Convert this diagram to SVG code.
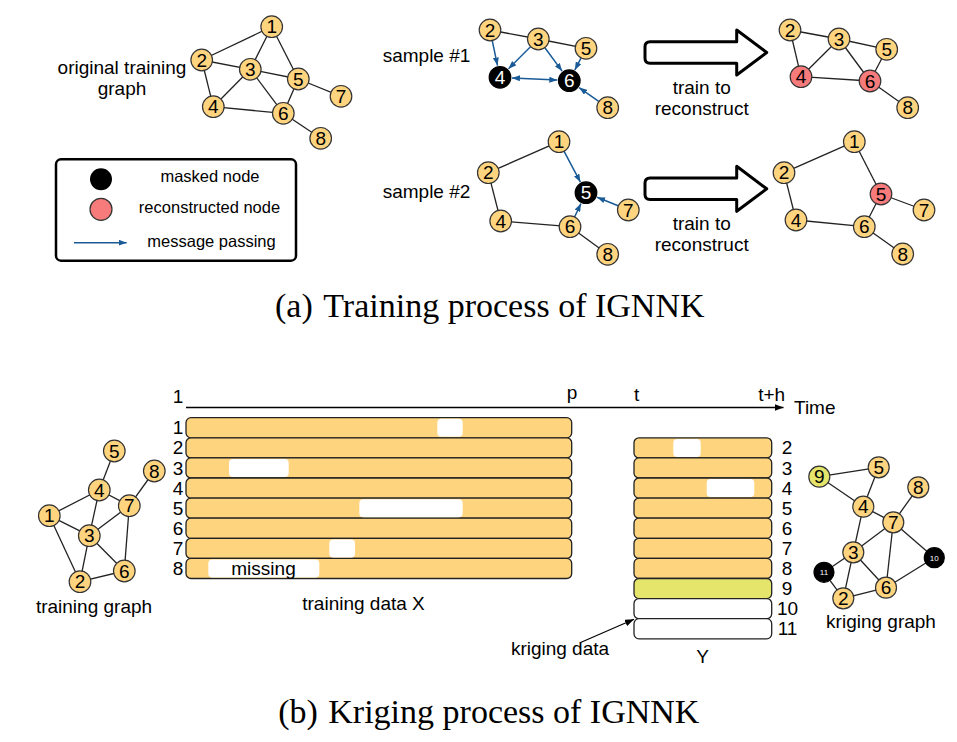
<svg xmlns="http://www.w3.org/2000/svg" width="957" height="742" viewBox="0 0 957 742">
<defs>
<marker id="ab" markerWidth="8" markerHeight="6" refX="8" refY="3" orient="auto-start-reverse" markerUnits="userSpaceOnUse"><path d="M0,0 L8,3 L0,6 z" fill="#1a5a96"/></marker>
<marker id="ak" markerWidth="9" markerHeight="7" refX="9" refY="3.5" orient="auto" markerUnits="userSpaceOnUse"><path d="M0,0 L9,3.5 L0,7 z" fill="#000"/></marker>
</defs>
<style>
text{font-family:"Liberation Sans",Arial,sans-serif;fill:#000}
.t{font-size:19px}
.lg{font-size:16.5px}
.m{text-anchor:middle}
.n{fill:#ffd47f;stroke:#333;stroke-width:1.2}
.p{fill:#f77b7b;stroke:#333;stroke-width:1.2}
.b{fill:#000;stroke:#000;stroke-width:1.2}
.g{fill:#e5e46b;stroke:#333;stroke-width:1.2}
.nl{font-size:19px;text-anchor:middle}
.wl{font-size:19px;text-anchor:middle;fill:#fff}
.sl{font-size:8px;text-anchor:middle;fill:#fff}
.e{stroke:#222;stroke-width:1.3;fill:none}
.mp{stroke:#1a5a96;stroke-width:1.5;fill:none;marker-end:url(#ab)}
.bar{fill:#ffd47f;stroke:#222;stroke-width:1.3}
.gap{fill:#fff}
.big{fill:#fff;stroke:#000;stroke-width:3;stroke-linejoin:round}
.cap{font-family:"Liberation Serif","Times New Roman",serif;font-size:34px}
</style>

<!-- connectors -->
<g id="connectors">
<g class="e">
<line x1="271.7" y1="26.7" x2="201.7" y2="60"/>
<line x1="271.7" y1="26.7" x2="250.3" y2="69.3"/>
<line x1="271.7" y1="26.7" x2="298.3" y2="79"/>
<line x1="201.7" y1="60" x2="250.3" y2="69.3"/>
<line x1="201.7" y1="60" x2="213.3" y2="106.7"/>
<line x1="250.3" y1="69.3" x2="213.3" y2="106.7"/>
<line x1="250.3" y1="69.3" x2="298.3" y2="79"/>
<line x1="250.3" y1="69.3" x2="283.3" y2="113.3"/>
<line x1="213.3" y1="106.7" x2="283.3" y2="113.3"/>
<line x1="298.3" y1="79" x2="283.3" y2="113.3"/>
<line x1="298.3" y1="79" x2="341" y2="96.3"/>
<line x1="283.3" y1="113.3" x2="320.7" y2="138.3"/>
</g>
<g class="e">
<line x1="490" y1="30" x2="538.3" y2="39"/>
<line x1="538.3" y1="39" x2="586" y2="48.3"/>
</g>
<path class="mp" d="M492.3,40.8 L497.5,65.6"/>
<path class="mp" d="M530.5,46.8 L508.5,68.8"/>
<path class="mp" d="M544.9,47.8 L562.1,71.1"/>
<path class="mp" d="M581,58.1 L574.8,70"/>
<path class="mp" d="M598.7,101.4 L579.1,87.6"/>
<path class="mp" d="M512,77.9 L557.3,80.1" marker-start="url(#ab)"/>
<g class="e">
<line x1="790" y1="30" x2="839" y2="39"/>
<line x1="839" y1="39" x2="886.7" y2="49.3"/>
<line x1="790" y1="30" x2="801" y2="76.7"/>
<line x1="839" y1="39" x2="801" y2="76.7"/>
<line x1="839" y1="39" x2="870" y2="81"/>
<line x1="801" y1="76.7" x2="870" y2="81"/>
<line x1="886.7" y1="49.3" x2="870" y2="81"/>
<line x1="870" y1="81" x2="907.7" y2="107.7"/>
</g>
<g class="e">
<line x1="559" y1="141.7" x2="488.3" y2="172.7"/>
<line x1="488.3" y1="172.7" x2="500.7" y2="221"/>
<line x1="500.7" y1="221" x2="570" y2="226.7"/>
<line x1="570" y1="226.7" x2="607.7" y2="254.3"/>
</g>
<path class="mp" d="M564.1,151.4 L580.4,182.1"/>
<path class="mp" d="M618.1,205.8 L597.1,197.2"/>
<path class="mp" d="M574.7,216.7 L580.9,203.6"/>
<g class="e">
<line x1="854.3" y1="141.7" x2="784" y2="172.7"/>
<line x1="854.3" y1="141.7" x2="881" y2="194"/>
<line x1="784" y1="172.7" x2="796" y2="220"/>
<line x1="796" y1="220" x2="864.3" y2="226.7"/>
<line x1="881" y1="194" x2="864.3" y2="226.7"/>
<line x1="881" y1="194" x2="924" y2="210"/>
<line x1="864.3" y1="226.7" x2="902.7" y2="254"/>
</g>
<g class="e">
<line x1="114.3" y1="451" x2="99.3" y2="490"/>
<line x1="154.3" y1="471" x2="129.3" y2="505.7"/>
<line x1="99.3" y1="490" x2="129.3" y2="505.7"/>
<line x1="99.3" y1="490" x2="49.3" y2="515.7"/>
<line x1="99.3" y1="490" x2="89.3" y2="535.7"/>
<line x1="49.3" y1="515.7" x2="89.3" y2="535.7"/>
<line x1="49.3" y1="515.7" x2="80" y2="581.7"/>
<line x1="89.3" y1="535.7" x2="129.3" y2="505.7"/>
<line x1="89.3" y1="535.7" x2="80" y2="581.7"/>
<line x1="89.3" y1="535.7" x2="124.3" y2="571"/>
<line x1="129.3" y1="505.7" x2="124.3" y2="571"/>
<line x1="80" y1="581.7" x2="124.3" y2="571"/>
</g>
<g class="e">
<line x1="819.3" y1="476.7" x2="878.7" y2="467.3"/>
<line x1="819.3" y1="476.7" x2="863.3" y2="506.7"/>
<line x1="878.7" y1="467.3" x2="863.3" y2="506.7"/>
<line x1="918.3" y1="487.3" x2="893.3" y2="522.3"/>
<line x1="863.3" y1="506.7" x2="893.3" y2="522.3"/>
<line x1="863.3" y1="506.7" x2="853.3" y2="552.3"/>
<line x1="853.3" y1="552.3" x2="893.3" y2="522.3"/>
<line x1="893.3" y1="522.3" x2="886" y2="587.7"/>
<line x1="893.3" y1="522.3" x2="934.3" y2="557.7"/>
<line x1="934.3" y1="557.7" x2="886" y2="587.7"/>
<line x1="853.3" y1="552.3" x2="824" y2="572.3"/>
<line x1="824" y1="572.3" x2="843.3" y2="598.3"/>
<line x1="853.3" y1="552.3" x2="843.3" y2="598.3"/>
<line x1="853.3" y1="552.3" x2="886" y2="587.7"/>
<line x1="843.3" y1="598.3" x2="886" y2="587.7"/>
</g>
<line x1="186" y1="407.5" x2="783.5" y2="407.5" stroke="#000" stroke-width="1.5" marker-end="url(#ak)"/>
<line x1="580" y1="642.7" x2="634" y2="619.3" stroke="#000" stroke-width="1.2" marker-end="url(#ak)"/>
</g>

<g id="orig-graph-label">
<text class="t m" x="122" y="74">original training</text>
<text class="t m" x="122" y="95">graph</text>
</g>
<g id="orig-graph">
<g id="o1"><circle class="n" cx="271.7" cy="26.7" r="10.8"/><text class="nl" x="271.7" y="33.4">1</text></g>
<g id="o2"><circle class="n" cx="201.7" cy="60" r="10.8"/><text class="nl" x="201.7" y="66.7">2</text></g>
<g id="o3"><circle class="n" cx="250.3" cy="69.3" r="10.8"/><text class="nl" x="250.3" y="76">3</text></g>
<g id="o4"><circle class="n" cx="213.3" cy="106.7" r="10.8"/><text class="nl" x="213.3" y="113.4">4</text></g>
<g id="o5"><circle class="n" cx="298.3" cy="79" r="10.8"/><text class="nl" x="298.3" y="85.7">5</text></g>
<g id="o6"><circle class="n" cx="283.3" cy="113.3" r="10.8"/><text class="nl" x="283.3" y="120">6</text></g>
<g id="o7"><circle class="n" cx="341" cy="96.3" r="10.8"/><text class="nl" x="341" y="103">7</text></g>
<g id="o8"><circle class="n" cx="320.7" cy="138.3" r="10.8"/><text class="nl" x="320.7" y="145">8</text></g>
</g>

<g id="legend">
<rect x="56" y="159.3" width="240" height="101.4" rx="5" fill="#fff" stroke="#000" stroke-width="2.5"/>
<circle cx="101" cy="179.3" r="11" fill="#000"/>
<circle cx="101" cy="209.3" r="11" fill="#f77b7b" stroke="#333" stroke-width="1.2"/>
<path class="mp" d="M74,242.7 L126.7,242.7"/>
<text class="lg m" x="210" y="182.3">masked node</text>
<text class="lg m" x="209.5" y="212.5">reconstructed node</text>
<text class="lg m" x="211.5" y="246.7">message passing</text>
</g>

<g id="sample1">
<text class="t" x="382.7" y="61.7">sample #1</text>
<g id="s1n2"><circle class="n" cx="490" cy="30" r="10.8"/><text class="nl" x="490" y="36.7">2</text></g>
<g id="s1n3"><circle class="n" cx="538.3" cy="39" r="10.8"/><text class="nl" x="538.3" y="45.7">3</text></g>
<g id="s1n5"><circle class="n" cx="586" cy="48.3" r="10.8"/><text class="nl" x="586" y="55">5</text></g>
<g id="s1n4"><circle class="b" cx="500" cy="77.3" r="10.8"/><text class="wl" x="500" y="84">4</text></g>
<g id="s1n6"><circle class="b" cx="569.3" cy="80.7" r="10.8"/><text class="wl" x="569.3" y="87.4">6</text></g>
<g id="s1n8"><circle class="n" cx="607.7" cy="107.7" r="10.8"/><text class="nl" x="607.7" y="114.4">8</text></g>
</g>

<g id="train-arrow-1">
<path class="big" d="M650,41.7 L736.7,41.7 L736.7,30 L766.7,52.5 L736.7,75 L736.7,63.3 L650,63.3 Q645,63.3 645,58.3 L645,46.7 Q645,41.7 650,41.7 Z"/>
<text class="t m" x="701.7" y="94.3">train to</text>
<text class="t m" x="701.7" y="115">reconstruct</text>
</g>

<g id="recon1">
<g id="r1n2"><circle class="n" cx="790" cy="30" r="10.8"/><text class="nl" x="790" y="36.7">2</text></g>
<g id="r1n3"><circle class="n" cx="839" cy="39" r="10.8"/><text class="nl" x="839" y="45.7">3</text></g>
<g id="r1n5"><circle class="n" cx="886.7" cy="49.3" r="10.8"/><text class="nl" x="886.7" y="56">5</text></g>
<g id="r1n4"><circle class="p" cx="801" cy="76.7" r="10.8"/><text class="nl" x="801" y="83.4">4</text></g>
<g id="r1n6"><circle class="p" cx="870" cy="81" r="10.8"/><text class="nl" x="870" y="87.7">6</text></g>
<g id="r1n8"><circle class="n" cx="907.7" cy="107.7" r="10.8"/><text class="nl" x="907.7" y="114.4">8</text></g>
</g>

<g id="sample2">
<text class="t" x="382.7" y="198.3">sample #2</text>
<g id="s2n1"><circle class="n" cx="559" cy="141.7" r="10.8"/><text class="nl" x="559" y="148.4">1</text></g>
<g id="s2n2"><circle class="n" cx="488.3" cy="172.7" r="10.8"/><text class="nl" x="488.3" y="179.4">2</text></g>
<g id="s2n5"><circle class="b" cx="586" cy="192.7" r="10.8"/><text class="wl" x="586" y="199.4">5</text></g>
<g id="s2n7"><circle class="n" cx="628.3" cy="210" r="10.8"/><text class="nl" x="628.3" y="216.7">7</text></g>
<g id="s2n4"><circle class="n" cx="500.7" cy="221" r="10.8"/><text class="nl" x="500.7" y="227.7">4</text></g>
<g id="s2n6"><circle class="n" cx="570" cy="226.7" r="10.8"/><text class="nl" x="570" y="233.4">6</text></g>
<g id="s2n8"><circle class="n" cx="607.7" cy="254.3" r="10.8"/><text class="nl" x="607.7" y="261">8</text></g>
</g>

<g id="train-arrow-2">
<path class="big" d="M650,178 L736.7,178 L736.7,166.3 L766.7,188.8 L736.7,211.3 L736.7,199.6 L650,199.6 Q645,199.6 645,194.6 L645,183 Q645,178 650,178 Z"/>
<text class="t m" x="701.7" y="230.3">train to</text>
<text class="t m" x="701.7" y="251">reconstruct</text>
</g>

<g id="recon2">
<g id="r2n1"><circle class="n" cx="854.3" cy="141.7" r="10.8"/><text class="nl" x="854.3" y="148.4">1</text></g>
<g id="r2n2"><circle class="n" cx="784" cy="172.7" r="10.8"/><text class="nl" x="784" y="179.4">2</text></g>
<g id="r2n5"><circle class="p" cx="881" cy="194" r="10.8"/><text class="nl" x="881" y="200.7">5</text></g>
<g id="r2n7"><circle class="n" cx="924" cy="210" r="10.8"/><text class="nl" x="924" y="216.7">7</text></g>
<g id="r2n4"><circle class="n" cx="796" cy="220" r="10.8"/><text class="nl" x="796" y="226.7">4</text></g>
<g id="r2n6"><circle class="n" cx="864.3" cy="226.7" r="10.8"/><text class="nl" x="864.3" y="233.4">6</text></g>
<g id="r2n8"><circle class="n" cx="902.7" cy="254" r="10.8"/><text class="nl" x="902.7" y="260.7">8</text></g>
</g>

<g id="caption-a">
<text class="cap" x="275" y="317">(a)</text>
<text class="cap" x="323.3" y="317">Training process of IGNNK</text>
</g>

<g id="training-graph">
<g id="t5"><circle class="n" cx="114.3" cy="451" r="10.8"/><text class="nl" x="114.3" y="457.7">5</text></g>
<g id="t8"><circle class="n" cx="154.3" cy="471" r="10.8"/><text class="nl" x="154.3" y="477.7">8</text></g>
<g id="t4"><circle class="n" cx="99.3" cy="490" r="10.8"/><text class="nl" x="99.3" y="496.7">4</text></g>
<g id="t7"><circle class="n" cx="129.3" cy="505.7" r="10.8"/><text class="nl" x="129.3" y="512.4">7</text></g>
<g id="t1"><circle class="n" cx="49.3" cy="515.7" r="10.8"/><text class="nl" x="49.3" y="522.4">1</text></g>
<g id="t3"><circle class="n" cx="89.3" cy="535.7" r="10.8"/><text class="nl" x="89.3" y="542.4">3</text></g>
<g id="t6"><circle class="n" cx="124.3" cy="571" r="10.8"/><text class="nl" x="124.3" y="577.7">6</text></g>
<g id="t2"><circle class="n" cx="80" cy="581.7" r="10.8"/><text class="nl" x="80" y="588.4">2</text></g>
<text class="t m" x="94" y="613.3">training graph</text>
</g>

<g id="time-axis">
<text class="t m" x="178" y="402.7">1</text>
<text class="t m" x="572" y="399">p</text>
<text class="t m" x="636.7" y="400.7">t</text>
<text class="t m" x="771.7" y="400.5">t+h</text>
<text class="t" x="794" y="413.5">Time</text>
</g>

<g id="training-data">
<rect class="bar" x="186" y="417.7" width="385.7" height="20.1" rx="5"/>
<rect class="bar" x="186" y="437.8" width="385.7" height="20.1" rx="5"/>
<rect class="bar" x="186" y="457.9" width="385.7" height="20.1" rx="5"/>
<rect class="bar" x="186" y="478" width="385.7" height="20.1" rx="5"/>
<rect class="bar" x="186" y="498.1" width="385.7" height="20.1" rx="5"/>
<rect class="bar" x="186" y="518.2" width="385.7" height="20.1" rx="5"/>
<rect class="bar" x="186" y="538.3" width="385.7" height="20.1" rx="5"/>
<rect class="bar" x="186" y="558.4" width="385.7" height="20.1" rx="5"/>
<rect class="gap" x="437.3" y="418.8" width="25.4" height="18" rx="4"/>
<rect class="gap" x="229" y="459" width="59.7" height="18" rx="4"/>
<rect class="gap" x="359.3" y="499.2" width="103.4" height="18" rx="4"/>
<rect class="gap" x="329.3" y="539.4" width="25.7" height="18" rx="4"/>
<rect class="gap" x="208.3" y="559.5" width="111" height="18" rx="4"/>
<text class="t m" x="263.5" y="574.5">missing</text>
<text class="t m" x="178" y="434.3">1</text>
<text class="t m" x="178" y="454.4">2</text>
<text class="t m" x="178" y="474.5">3</text>
<text class="t m" x="178" y="494.6">4</text>
<text class="t m" x="178" y="514.7">5</text>
<text class="t m" x="178" y="534.8">6</text>
<text class="t m" x="178" y="554.9">7</text>
<text class="t m" x="178" y="575">8</text>
<text class="t m" x="363.5" y="610">training data X</text>
</g>

<g id="kriging-data">
<rect class="bar" x="634" y="437.8" width="137.7" height="20.1" rx="5"/>
<rect class="bar" x="634" y="457.9" width="137.7" height="20.1" rx="5"/>
<rect class="bar" x="634" y="478" width="137.7" height="20.1" rx="5"/>
<rect class="bar" x="634" y="498.1" width="137.7" height="20.1" rx="5"/>
<rect class="bar" x="634" y="518.2" width="137.7" height="20.1" rx="5"/>
<rect class="bar" x="634" y="538.3" width="137.7" height="20.1" rx="5"/>
<rect class="bar" x="634" y="558.4" width="137.7" height="20.1" rx="5"/>
<rect x="634" y="578.5" width="137.7" height="20.1" rx="5" fill="#e5e46b" stroke="#222" stroke-width="1.3"/>
<rect x="634" y="598.6" width="137.7" height="20.1" rx="5" fill="#fff" stroke="#222" stroke-width="1.3"/>
<rect x="634" y="618.7" width="137.7" height="20.1" rx="5" fill="#fff" stroke="#222" stroke-width="1.3"/>
<rect class="gap" x="673.3" y="438.9" width="27.4" height="18" rx="4"/>
<rect class="gap" x="706.7" y="479.1" width="47.6" height="18" rx="4"/>
<text class="t m" x="787" y="454.4">2</text>
<text class="t m" x="787" y="474.5">3</text>
<text class="t m" x="787" y="494.6">4</text>
<text class="t m" x="787" y="514.7">5</text>
<text class="t m" x="787" y="534.8">6</text>
<text class="t m" x="787" y="554.9">7</text>
<text class="t m" x="787" y="575">8</text>
<text class="t m" x="787" y="595.1">9</text>
<text class="t m" x="787.5" y="615.2">10</text>
<text class="t m" x="787.5" y="635.3">11</text>
<text class="t m" x="702.7" y="663">Y</text>
<text class="t m" x="560" y="654.5">kriging data</text>
</g>

<g id="kriging-graph">
<g id="k9"><circle class="g" cx="819.3" cy="476.7" r="10.5"/><text class="nl" x="819.3" y="483.4">9</text></g>
<g id="k5"><circle class="n" cx="878.7" cy="467.3" r="10.5"/><text class="nl" x="878.7" y="474">5</text></g>
<g id="k8"><circle class="n" cx="918.3" cy="487.3" r="10.5"/><text class="nl" x="918.3" y="494">8</text></g>
<g id="k4"><circle class="n" cx="863.3" cy="506.7" r="10.5"/><text class="nl" x="863.3" y="513.4">4</text></g>
<g id="k7"><circle class="n" cx="893.3" cy="522.3" r="10.5"/><text class="nl" x="893.3" y="529">7</text></g>
<g id="k3"><circle class="n" cx="853.3" cy="552.3" r="10.5"/><text class="nl" x="853.3" y="559">3</text></g>
<g id="k10"><circle class="b" cx="934.3" cy="557.7" r="10"/><text class="sl" x="934.3" y="560.5">10</text></g>
<g id="k11"><circle class="b" cx="824" cy="572.3" r="10"/><text class="sl" x="824" y="575.1">11</text></g>
<g id="k6"><circle class="n" cx="886" cy="587.7" r="10.5"/><text class="nl" x="886" y="594.4">6</text></g>
<g id="k2"><circle class="n" cx="843.3" cy="598.3" r="10.5"/><text class="nl" x="843.3" y="605">2</text></g>
<text class="t m" x="881" y="628.3">kriging graph</text>
</g>

<g id="caption-b">
<text class="cap" x="278.3" y="722.5">(b)</text>
<text class="cap" x="328.3" y="722.5">Kriging process of IGNNK</text>
</g>
</svg>
